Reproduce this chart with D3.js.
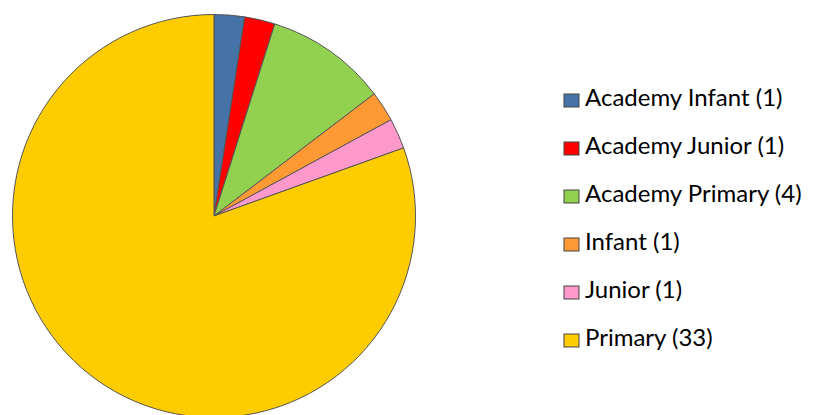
<!DOCTYPE html>
<html><head><meta charset="utf-8">
<script src="https://cdn.jsdelivr.net/npm/d3@7"></script>
<style>body{margin:0;background:#fff}svg{display:block}</style>
</head><body>
<svg id="c" width="813" height="415"></svg>
<script>
const categories = ["Academy Infant", "Academy Junior", "Academy Primary", "Infant", "Junior", "Primary"];
const values = [1, 1, 4, 1, 1, 33];
const colors = ["#4572A7", "#FF0000", "#92D050", "#FF9933", "#FF99CC", "#FFCC00"];

const svg = d3.select("#c");
const cx = 214, cy = 216, r = 201.5;
const pie = d3.pie().sort(null).value(d => d.v);
const data = categories.map((c, i) => ({c, v: values[i], col: colors[i]}));
const arc = d3.arc().innerRadius(0).outerRadius(r);
const g = svg.append("g").attr("transform", `translate(${cx},${cy})`);
g.selectAll("path").data(pie(data)).join("path")
  .attr("d", arc).attr("fill", d => d.data.col)
  .attr("stroke", "#555").attr("stroke-width", 1).attr("stroke-linejoin", "round");

const y = d3.scaleBand().domain(categories).range([75, 363]);
const lg = svg.append("g");
const rows = lg.selectAll("g").data(data).join("g")
  .attr("transform", d => `translate(0,${y(d.c) + y.bandwidth()/2})`);
rows.append("rect").attr("x", 564).attr("y", -5).attr("width", 15).attr("height", 13)
  .attr("fill", d => d.col).attr("stroke", "#444").attr("stroke-width", 1);
rows.append("text").attr("x", 585).attr("y", 7)
  .attr("font-family", "Lato, 'Open Sans', sans-serif").attr("font-size", 24)
  .attr("fill", "#000").text(d => `${d.c} (${d.v})`);
</script>
</body></html>
